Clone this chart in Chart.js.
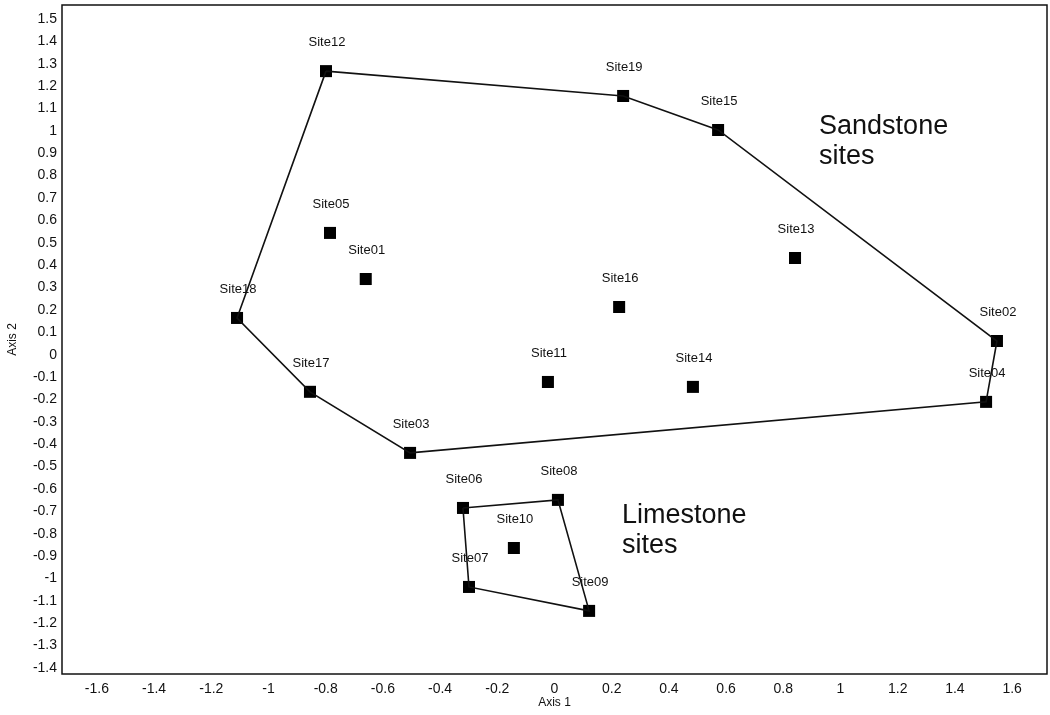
<!DOCTYPE html>
<html>
<head>
<meta charset="utf-8">
<script src="https://cdn.jsdelivr.net/npm/chart.js@4/dist/chart.umd.min.js"></script>
<style>
  html, body { margin: 0; padding: 0; background: #fff; }
  #wrap { width: 1050px; height: 715px; position: relative; }
</style>
</head>
<body>
<div id="wrap"><canvas id="chart"></canvas></div>
<script>
// site ordination scores
const siteNames = ['Site01','Site02','Site03','Site04','Site05','Site06','Site07','Site08','Site09','Site10',
                   'Site11','Site12','Site13','Site14','Site15','Site16','Site17','Site18','Site19'];
const axis1 = [-0.66, 1.547, -0.505, 1.509, -0.785, -0.32, -0.299, 0.012, 0.121, -0.142,
               -0.023, -0.799, 0.841, 0.484, 0.572, 0.226, -0.855, -1.11, 0.24];
const axis2 = [0.338, 0.061, -0.439, -0.211, 0.544, -0.685, -1.038, -0.649, -1.145, -0.864,
               -0.122, 1.267, 0.432, -0.144, 1.004, 0.213, -0.166, 0.164, 1.156];

// hull outlines (site order around each group)
const sandstoneHull = ['Site12','Site19','Site15','Site02','Site04','Site03','Site17','Site18','Site12'];
const limestoneHull = ['Site06','Site08','Site09','Site07','Site06'];

const xTicks = [-1.6,-1.4,-1.2,-1,-0.8,-0.6,-0.4,-0.2,0,0.2,0.4,0.6,0.8,1,1.2,1.4,1.6];
const yTicks = [1.5,1.4,1.3,1.2,1.1,1,0.9,0.8,0.7,0.6,0.5,0.4,0.3,0.2,0.1,0,
                -0.1,-0.2,-0.3,-0.4,-0.5,-0.6,-0.7,-0.8,-0.9,-1,-1.1,-1.2,-1.3,-1.4];

const FONT = "'Liberation Sans', Arial, Helvetica, sans-serif";

function pt(name) {
  const i = siteNames.indexOf(name);
  return { x: axis1[i], y: axis2[i] };
}
const points = siteNames.map(pt);

// group captions, anchored in data units
const captions = [
  { lines: ['Sandstone', 'sites'], x: 0.925, y: 0.986 },
  { lines: ['Limestone', 'sites'], x: 0.236, y: -0.752 }
];

const decorPlugin = {
  id: 'decor',
  afterDatasetsDraw(chart) {
    const { ctx, chartArea: a, scales: { x, y } } = chart;
    ctx.save();
    // frame
    ctx.strokeStyle = '#111';
    ctx.lineWidth = 1.5;
    ctx.strokeRect(a.left, a.top, a.right - a.left, a.bottom - a.top);
    // site labels
    ctx.fillStyle = '#111';
    ctx.font = '13px ' + FONT;
    ctx.textAlign = 'center';
    ctx.textBaseline = 'alphabetic';
    points.forEach((p, i) => {
      ctx.fillText(siteNames[i], x.getPixelForValue(p.x) + 1, y.getPixelForValue(p.y) - 25);
    });
    // captions
    ctx.font = '27px ' + FONT;
    ctx.textAlign = 'left';
    captions.forEach(c => {
      const px = x.getPixelForValue(c.x), py = y.getPixelForValue(c.y);
      c.lines.forEach((t, k) => ctx.fillText(t, px, py + k * 30));
    });
    ctx.restore();
  }
};

const fmt = v => String(+Number(v).toFixed(1));
const noPad = s => { s.paddingTop = 0; s.paddingBottom = 0; s.paddingLeft = 0; s.paddingRight = 0; };

new Chart(document.getElementById('chart').getContext('2d'), {
  type: 'scatter',
  data: {
    datasets: [
      {
        type: 'line', data: sandstoneHull.map(pt), showLine: true, fill: false,
        borderColor: '#111', borderWidth: 1.6, pointRadius: 0, tension: 0
      },
      {
        type: 'line', data: limestoneHull.map(pt), showLine: true, fill: false,
        borderColor: '#111', borderWidth: 1.6, pointRadius: 0, tension: 0
      },
      {
        data: points, pointStyle: 'rect', pointRadius: 8.5, pointHoverRadius: 8.5,
        backgroundColor: '#000', borderColor: '#000', borderWidth: 0
      }
    ]
  },
  options: {
    responsive: true,
    maintainAspectRatio: false,
    animation: false,
    layout: { autoPadding: false, padding: { top: 5, right: 3, left: 0, bottom: 0 } },
    plugins: { legend: { display: false }, tooltip: { enabled: false } },
    scales: {
      x: {
        type: 'linear', min: -1.722, max: 1.722,
        afterBuildTicks: s => { s.ticks = xTicks.map(v => ({ value: v })); },
        afterFit: s => { s.height = 41; noPad(s); },
        grid: { display: false, drawTicks: false },
        border: { display: false },
        ticks: { padding: 7, color: '#111', font: { family: FONT, size: 14 }, callback: fmt, maxRotation: 0, autoSkip: false },
        title: { display: true, text: 'Axis 1', color: '#111', font: { family: FONT, size: 12 }, padding: { top: 0, bottom: 5 } }
      },
      y: {
        type: 'linear', min: -1.427, max: 1.5625,
        afterBuildTicks: s => { s.ticks = yTicks.map(v => ({ value: v })); },
        afterFit: s => { s.width = 62; noPad(s); },
        grid: { display: false, drawTicks: false },
        border: { display: false },
        ticks: { padding: 5, color: '#111', font: { family: FONT, size: 14 }, callback: fmt, autoSkip: false },
        title: { display: true, text: 'Axis 2', color: '#111', font: { family: FONT, size: 12 }, padding: { top: 5, bottom: 0 } }
      }
    }
  },
  plugins: [decorPlugin]
});
</script>
</body>
</html>
